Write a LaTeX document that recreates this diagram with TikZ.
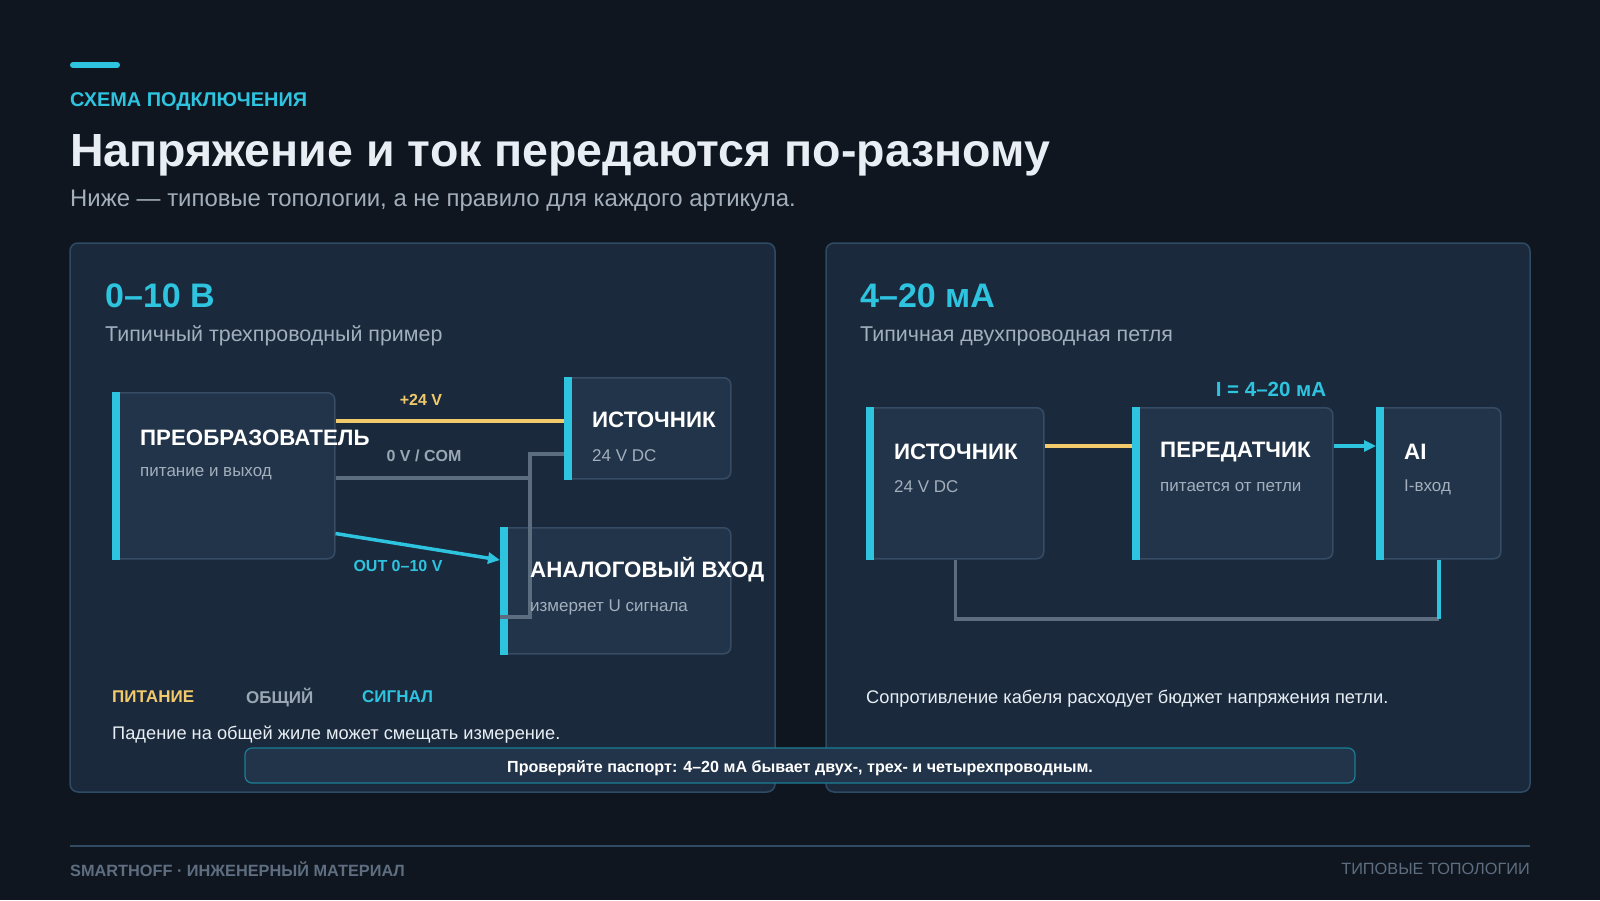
\documentclass[tikz,border=0pt]{standalone}
\usepackage{fontspec}
\setmainfont{Liberation Sans}
\usepackage{xcolor}
\usepackage{tikz}
\usetikzlibrary{arrows.meta}

\definecolor{bg}{HTML}{0F1620}
\definecolor{panelfill}{HTML}{1A2A3C}
\definecolor{panelline}{HTML}{2F4A63}
\definecolor{boxfill}{HTML}{22344A}
\definecolor{boxline}{HTML}{354C64}
\definecolor{cyanacc}{HTML}{2EC4E0}
\definecolor{yel}{HTML}{F2C96B}
\definecolor{wiregray}{HTML}{5C6D7F}
\definecolor{txtwhite}{HTML}{E8EEF4}
\definecolor{txtgray}{HTML}{A3AFBC}
\definecolor{lblgray}{HTML}{9AA6B3}
\definecolor{footgray}{HTML}{5E6E80}
\definecolor{noteline}{HTML}{1B7E95}

\begin{document}
\begin{tikzpicture}[x=1pt, y=-1pt,
  panel/.style={draw=panelline, fill=panelfill, line width=1.5pt, rounded corners=8pt},
  unit/.style={draw=boxline, fill=boxfill, line width=1.5pt, rounded corners=7pt, anchor=north west, inner sep=0pt},
  bar/.style={fill=cyanacc},
  txt/.style={anchor=west, inner sep=0pt},
  utitle/.style={txt, text=white, font=\fontsize{22.3}{26}\selectfont\bfseries},
  usub/.style={txt, text=txtgray, font=\fontsize{17}{20}\selectfont},
  wlbl/.style={inner sep=0pt, font=\fontsize{16}{19}\selectfont\bfseries},
  leg/.style={txt, font=\fontsize{17}{20}\selectfont\bfseries},
  head/.style={txt, text=cyanacc, font=\fontsize{34}{40}\selectfont\bfseries},
  headsub/.style={txt, text=txtgray, font=\fontsize{21.4}{25}\selectfont},
  remark/.style={txt, text=txtwhite, font=\fontsize{18.25}{22}\selectfont},
  pwr/.style={draw=yel, line width=4pt},
  com/.style={draw=wiregray, line width=3.5pt},
  sig/.style={draw=cyanacc, line width=3.5pt},
]
\useasboundingbox (0,0) rectangle (1600,900);
\fill[bg] (0,0) rectangle (1600,900);

\draw[cyanacc, line width=6pt, line cap=round] (73,65) -- (117,65);
\node[txt, text=cyanacc, font=\fontsize{19.9}{23}\selectfont\bfseries] (kicker) at (70,102) {СХЕМА ПОДКЛЮЧЕНИЯ};
\node[txt, text=txtwhite, font=\fontsize{46.5}{54}\selectfont\bfseries] (title) at (70,155) {Напряжение и ток передаются по-разному};
\node[txt, text=txtgray, font=\fontsize{23.9}{28}\selectfont] (subtitle) at (70,201) {Ниже — типовые топологии, а не правило для каждого артикула.};

\draw[panel] (70,243) rectangle (775,792);
\draw[panel] (826,243) rectangle (1530,792);

\node[head] (hvolt) at (105,296) {0–10 В};
\node[headsub] (svolt) at (105,336) {Типичный трехпроводный пример};
\node[head] (hcur) at (860,296) {4–20 мА};
\node[headsub] (scur) at (860,336) {Типичная двухпроводная петля};

\node[unit, minimum width=222pt, minimum height=166pt] (conv) at (112,392) {};
\node[unit, minimum width=166pt, minimum height=101pt] (src1) at (564,377) {};
\node[unit, minimum width=230pt, minimum height=126pt] (ain) at (500,527) {};
\node[unit, minimum width=177pt, minimum height=151pt] (src2) at (866,407) {};
\node[unit, minimum width=200pt, minimum height=151pt] (tx) at (1132,407) {};
\node[unit, minimum width=124pt, minimum height=151pt] (ai) at (1376,407) {};

\fill[bar] (conv.north west) rectangle ([xshift=8pt]conv.south west);
\fill[bar] (src1.north west) rectangle ([xshift=8pt]src1.south west);
\fill[bar] (ain.north west) rectangle ([xshift=8pt]ain.south west);
\fill[bar] (src2.north west) rectangle ([xshift=8pt]src2.south west);
\fill[bar] (tx.north west) rectangle ([xshift=8pt]tx.south west);
\fill[bar] (ai.north west) rectangle ([xshift=8pt]ai.south west);

\coordinate (comx) at (530,478);
\coordinate (comtop) at (530,454);
\coordinate (combot) at (530,617);
\coordinate (loop) at (0,619);

\draw[pwr] ([yshift=-29pt]conv.north east) -- ([yshift=-29pt]conv.north east -| src1.west);
\draw[com] (conv.east |- comx) -- (comx);
\draw[com] (src1.west |- comtop) -- (comtop) -- (combot) -- (ain.west |- combot);
\draw[sig, -{Triangle[length=12pt, width=11pt]}] ([yshift=26pt]conv.south east) -- ([yshift=-33pt]ain.north west);

\draw[pwr] ([yshift=-39pt]src2.north east) -- ([yshift=-39pt]tx.north west);
\draw[sig, -{Triangle[length=12pt, width=11pt]}] ([yshift=-39pt]tx.north east) -- ([yshift=-39pt]ai.north west);
\draw[com] (src2.south) -- (src2.south |- loop) -- (ai.south |- loop);
\draw[sig] (ai.south) -- (ai.south |- loop);

\node[wlbl, text=yel] (l24) at (421,400) {+24 V};
\node[wlbl, text=lblgray] (lcom) at (424,456) {0 V / COM};
\node[wlbl, text=cyanacc] (lout) at (398,566) {OUT 0–10 V};
\node[wlbl, text=cyanacc, font=\fontsize{20.5}{24}\selectfont\bfseries] (lcur) at (1271,389) {I = 4–20 мА};

\node[utitle] (convt) at (140,438) {ПРЕОБРАЗОВАТЕЛЬ};
\node[usub] (convs) at (140,474) {питание и выход};
\node[utitle] (src1t) at (592,420) {ИСТОЧНИК};
\node[usub] (src1s) at (592,456) {24 V DC};
\node[utitle] (aint) at (530,570) {АНАЛОГОВЫЙ ВХОД};
\node[usub] (ains) at (530,607) {измеряет U сигнала};
\node[utitle] (src2t) at (894,452) {ИСТОЧНИК};
\node[usub] (src2s) at (894,487) {24 V DC};
\node[utitle] (txt) at (1160,452) {ПЕРЕДАТЧИК};
\node[usub] (txs) at (1160,487) {питается от петли};
\node[utitle] (ait) at (1404,452) {AI};
\node[usub] (ais) at (1404,487) {I-вход};

\node[leg, text=yel] (legpwr) at (112,697) {ПИТАНИЕ};
\node[leg, text=lblgray] (legcom) at (246,697) {ОБЩИЙ};
\node[leg, text=cyanacc] (legsig) at (362,697) {СИГНАЛ};
\node[remark] (rvolt) at (112,735) {Падение на общей жиле может смещать измерение.};
\node[remark] (rcur) at (866,699) {Сопротивление кабеля расходует бюджет напряжения петли.};

\node[draw=noteline, fill=boxfill, rounded corners=7pt, line width=1.2pt, minimum width=1110pt, minimum height=35pt, text=white, font=\fontsize{16.1}{19}\selectfont\bfseries] (note) at (800,765.5) {};
\node[text=white, inner sep=0pt, font=\fontsize{16.1}{19}\selectfont\bfseries] (notetext) at (800,768) {Проверяйте паспорт: 4–20 мА бывает двух-, трех- и четырехпроводным.};

\draw[panelline, line width=1.2pt] (70,846) -- (1530,846);
\node[txt, text=footgray, font=\fontsize{16.3}{19}\selectfont\bfseries] (footl) at (70,869) {SMARTHOFF · ИНЖЕНЕРНЫЙ МАТЕРИАЛ};
\node[anchor=east, inner sep=0pt, text=footgray, font=\fontsize{16.3}{19}\selectfont] (footr) at (1530,869) {ТИПОВЫЕ ТОПОЛОГИИ};
\end{tikzpicture}
\end{document}
